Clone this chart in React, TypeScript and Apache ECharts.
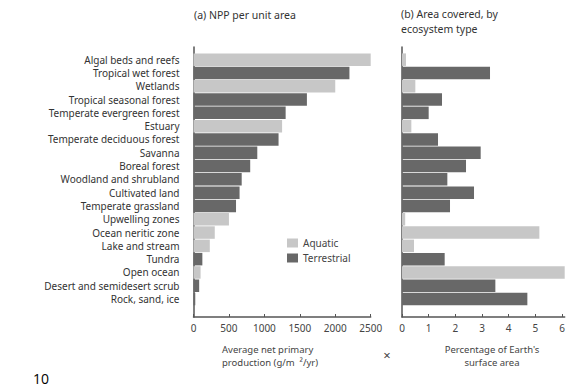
import React, { useEffect, useRef } from "react";
import * as echarts from "echarts";

const categories = [
  "Algal beds and reefs",
  "Tropical wet forest",
  "Wetlands",
  "Tropical seasonal forest",
  "Temperate evergreen forest",
  "Estuary",
  "Temperate deciduous forest",
  "Savanna",
  "Boreal forest",
  "Woodland and shrubland",
  "Cultivated land",
  "Temperate grassland",
  "Upwelling zones",
  "Ocean neritic zone",
  "Lake and stream",
  "Tundra",
  "Open ocean",
  "Desert and semidesert scrub",
  "Rock, sand, ice",
];

const ecosystemType = [
  "Aquatic", "Terrestrial", "Aquatic", "Terrestrial", "Terrestrial", "Aquatic",
  "Terrestrial", "Terrestrial", "Terrestrial", "Terrestrial", "Terrestrial",
  "Terrestrial", "Aquatic", "Aquatic", "Aquatic", "Terrestrial", "Aquatic",
  "Terrestrial", "Terrestrial",
];

// (a) average net primary production, g/m^2/yr
const nppValues = [2500, 2200, 2000, 1600, 1300, 1250, 1200, 900, 800, 680, 650, 600, 500, 300, 230, 125, 100, 80, 25];

// (b) percentage of Earth's surface area (open ocean bar runs off the axis)
const areaValues = [0.15, 3.3, 0.5, 1.5, 1.0, 0.35, 1.35, 2.95, 2.4, 1.7, 2.7, 1.8, 0.12, 5.15, 0.45, 1.6, 6.1, 3.5, 4.7];

const nppTicks = { min: 0, max: 2500, interval: 500, showMax: true };
const areaTicks = { min: 0, max: 6.1, interval: 1, showMax: false };

const LIGHT = "#c7c7c7";
const DARK = "#686868";
const AXIS = "#555";
const FONT = "Noto Sans";

export default function App() {
  const ref = useRef<HTMLDivElement>(null);

  useEffect(() => {
    if (!ref.current) return;
    const chart = echarts.init(ref.current, undefined, { renderer: "svg" });

    const pick = (vals: number[], t: string) =>
      vals.map((v, i) => (ecosystemType[i] === t ? v : "-"));

    const L = { left: 193.5, width: 177.2 };
    const R = { left: 402, width: 162.7 };
    const barGrid = { top: 53, height: 252.7 };
    const axisGrid = { top: 47, height: 270 };

    const grids = [
      { ...L, ...barGrid },
      { ...L, ...axisGrid },
      { ...R, ...barGrid },
      { ...R, ...axisGrid },
    ].map((g) => ({ ...g, containLabel: false, outerBoundsMode: "none" }));

    const hiddenValueX = (idx: number, t: any) => ({
      type: "value", gridIndex: idx, min: t.min, max: t.max, interval: t.interval,
      show: false,
    });
    const shownValueX = (idx: number, t: any) => ({
      type: "value", gridIndex: idx, min: t.min, max: t.max, interval: t.interval,
      axisLine: { show: true, lineStyle: { color: AXIS, width: 1.5 } },
      axisTick: { show: true, inside: true, length: 3, lineStyle: { color: AXIS } },
      axisLabel: {
        color: "#444", fontSize: 10, fontFamily: FONT, margin: 6,
        showMaxLabel: t.showMax, showMinLabel: true,
        formatter: (v: number) => String(v),
      },
      splitLine: { show: false },
    });
    const catY = (idx: number, labels: boolean) => ({
      type: "category", gridIndex: idx, data: categories, inverse: true,
      axisLine: { show: false }, axisTick: { show: false },
      axisLabel: labels
        ? { show: true, color: "#333", fontSize: 10, fontFamily: FONT, margin: 14 }
        : { show: false },
      splitLine: { show: false },
    });
    const lineY = (idx: number) => ({
      type: "value", gridIndex: idx, min: 0, max: 1,
      axisLine: { show: true, lineStyle: { color: AXIS, width: 1.5 } },
      axisTick: { show: false }, axisLabel: { show: false }, splitLine: { show: false },
    });

    const barSeries = (name: string, vals: number[], xi: number, color: string, stack: string) => ({
      type: "bar", name, xAxisIndex: xi, yAxisIndex: xi, stack,
      data: pick(vals, name), barCategoryGap: "6%",
      itemStyle: { color }, silent: true,
    });

    const txt = (text: string, x: number, y: number, extra: any = {}) => ({
      type: "text", x, y,
      style: { text, fontSize: 10, fill: "#444", fontFamily: FONT, verticalAlign: "middle", ...extra },
    });

    chart.setOption({
      animation: false,
      backgroundColor: "#fff",
      grid: grids,
      xAxis: [
        hiddenValueX(0, nppTicks),
        shownValueX(1, nppTicks),
        hiddenValueX(2, areaTicks),
        shownValueX(3, areaTicks),
      ],
      yAxis: [catY(0, true), lineY(1), catY(2, false), lineY(3)],
      legend: {
        data: ["Aquatic", "Terrestrial"],
        orient: "vertical",
        left: 282,
        top: 233,
        itemWidth: 11,
        itemHeight: 9,
        itemGap: 5,
        icon: "rect",
        textStyle: { fontSize: 10, color: "#444", fontFamily: FONT },
        selectedMode: false,
      },
      series: [
        barSeries("Aquatic", nppValues, 0, LIGHT, "a"),
        barSeries("Terrestrial", nppValues, 0, DARK, "a"),
        barSeries("Aquatic", areaValues, 2, LIGHT, "b"),
        barSeries("Terrestrial", areaValues, 2, DARK, "b"),
      ],
      graphic: [
        txt("(a) NPP per unit area", 194, 15, { fontSize: 10.5, fill: "#333" }),
        txt("(b) Area covered, by", 401, 14, { fontSize: 10.5, fill: "#333" }),
        txt("ecosystem type", 401, 28.5, { fontSize: 10.5, fill: "#333" }),
        txt("Average net primary", 222, 349, { fontSize: 9.5 }),
        txt("production (g/m  \u00b2/yr)", 222, 362.5, { fontSize: 9.5 }),
        txt("Percentage of Earth's", 492, 349, { fontSize: 9.5, align: "center" }),
        txt("surface area", 492, 362.5, { fontSize: 9.5, align: "center" }),
        txt("\u00d7", 387, 355, { fontSize: 13, align: "center" }),
        txt("10", 33, 378, { fontSize: 14, fill: "#000", fontFamily: "Open Sans" }),
      ],
    });

    return () => chart.dispose();
  }, []);

  return (
    <div
      ref={ref}
      style={{ position: "fixed", left: 0, top: 0, width: 575, height: 386, background: "#fff" }}
    />
  );
}
